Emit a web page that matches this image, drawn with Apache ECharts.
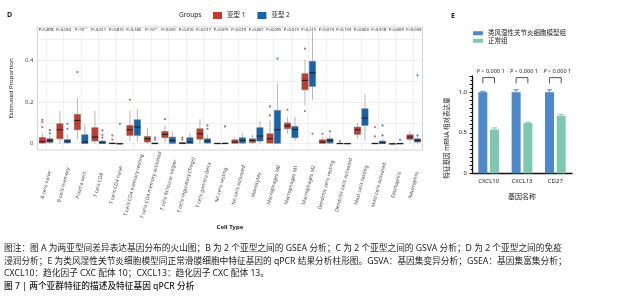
<!DOCTYPE html>
<html>
<head>
<meta charset="utf-8">
<script src="https://cdn.jsdelivr.net/npm/echarts@6/dist/echarts.min.js"></script>
<style>
html, body { margin: 0; padding: 0; background: #fff; }
#chart { width: 619px; height: 300px; }
</style>
</head>
<body>
<div id="chart"></div>
<script>
const FONT = '"Noto Sans", "Noto Sans CJK SC", sans-serif';

// Panel D: immune infiltration per cell type
const cellTypes = [
    'B cells naive', 'B cells memory', 'Plasma cells', 'T cells CD8', 'T cells CD4 naive',
    'T cells CD4 memory resting', 'T cells CD4 memory activated', 'T cells follicular helper',
    'T cells regulatory (Tregs)', 'T cells gamma delta', 'NK cells resting', 'NK cells activated',
    'Monocytes', 'Macrophages M0', 'Macrophages M1', 'Macrophages M2', 'Dendritic cells resting',
    'Dendritic cells activated', 'Mast cells resting', 'Mast cells activated', 'Eosinophils', 'Neutrophils'
];
const pLabels = [
    'P=0.878', 'P=0.053', 'P<10⁻⁷', 'P=0.011', 'P=0.810', 'P=0.180', 'P<10⁻⁵', 'P=0.031',
    'P=0.010', 'P=0.017', 'P=0.075', 'P=0.019', 'P=0.007', 'P=0.095', 'P=0.019', 'P=0.215',
    'P=0.019', 'P=0.159', 'P=0.003', 'P=0.318', 'P=0.069', 'P=0.003'
];
// [min, q1, median, q3, max]
const subtype1Box = [
    [0, 0.003, 0.01, 0.03, 0.05], [0, 0.024, 0.067, 0.096, 0.157], [0.02, 0.067, 0.112, 0.141, 0.22],
    [0, 0.013, 0.032, 0.077, 0.157], [0, 0, 0.001, 0.004, 0.008], [0.013, 0.04, 0.067, 0.088, 0.16],
    [0, 0.008, 0.024, 0.035, 0.077], [0.008, 0.029, 0.045, 0.059, 0.088], [0, 0, 0.002, 0.006, 0.012],
    [0, 0.022, 0.048, 0.072, 0.118], [0, 0, 0.001, 0.003, 0.006], [0, 0.002, 0.008, 0.019, 0.032],
    [0, 0.005, 0.016, 0.024, 0.043], [0, 0.003, 0.024, 0.048, 0.112], [0.048, 0.072, 0.086, 0.1, 0.128],
    [0.184, 0.259, 0.304, 0.336, 0.403], [0, 0.002, 0.008, 0.019, 0.032], [0, 0, 0.001, 0.003, 0.006],
    [0.024, 0.045, 0.067, 0.08, 0.1], [0, 0, 0.001, 0.003, 0.006], [0, 0, 0, 0.001, 0.002],
    [0.008, 0.021, 0.032, 0.043, 0.06]
];
const subtype2Box = [
    [0, 0.006, 0.016, 0.024, 0.04], [0, 0.004, 0.012, 0.02, 0.045], [0, 0.001, 0.008, 0.043, 0.093],
    [0, 0.001, 0.005, 0.013, 0.022], [0, 0, 0, 0.002, 0.004], [0.01, 0.04, 0.08, 0.115, 0.168],
    [0, 0, 0.001, 0.004, 0.008], [0, 0.002, 0.016, 0.032, 0.06], [0, 0.001, 0.008, 0.029, 0.053],
    [0, 0.003, 0.013, 0.024, 0.045], [0, 0, 0.001, 0.004, 0.008], [0, 0.003, 0.016, 0.029, 0.051],
    [0, 0.013, 0.037, 0.077, 0.109], [0, 0.002, 0.067, 0.16, 0.29], [0.013, 0.029, 0.069, 0.083, 0.13],
    [0.208, 0.275, 0.34, 0.395, 0.54], [0, 0.003, 0.016, 0.024, 0.04], [0, 0, 0.001, 0.002, 0.004],
    [0.016, 0.088, 0.123, 0.168, 0.237], [0, 0.001, 0.004, 0.013, 0.022], [0, 0, 0.001, 0.002, 0.004],
    [0, 0.008, 0.016, 0.024, 0.035]
];
// [cell type index, value]
const subtype1Outliers = [
    [0, 0.08], [0, 0.105], [0, 0.115], [2, 0.344], [4, 0.02], [4, 0.04], [5, 0.211], [7, 0.118],
    [8, 0.02], [8, 0.03], [13, 0.136], [13, 0.179], [14, 0.163], [15, 0.157], [15, 0.456],
    [16, 0.048], [17, 0.012], [19, 0.035], [19, 0.08]
];
const subtype2Outliers = [
    [0, 0.05], [0, 0.065], [1, 0.072], [1, 0.096], [3, 0.03], [3, 0.043], [3, 0.064], [4, 0.096],
    [6, 0.02], [6, 0.03], [9, 0.072], [9, 0.088], [10, 0.083], [13, 0.408], [15, 0.048],
    [16, 0.06], [19, 0.04], [19, 0.088], [20, 0.019], [21, 0.04], [21, 0.328]
];

// Panel E: qPCR
const genes = ['CXCL10', 'CXCL13', 'CD27'];
const raModel = [1.0, 1.0, 1.0];
const raModelErr = [0.01, 0.03, 0.03];
const normalGroup = [0.54, 0.62, 0.71];
const normalErr = [0.02, 0.01, 0.015];
const geneP = ['P < 0.000 1', 'P < 0.000 1', 'P < 0.000 1'];

const captionLines = [
    '图注：图 A 为两亚型间差异表达基因分布的火山图；B 为 2 个亚型之间的 GSEA 分析；C 为 2 个亚型之间的 GSVA 分析；D 为 2 个亚型之间的免疫',
    '浸润分析；E 为类风湿性关节炎细胞模型同正常滑膜细胞中特征基因的 qPCR 结果分析柱形图。GSVA：基因集变异分析；GSEA：基因集富集分析；',
    'CXCL10：趋化因子 CXC 配体 10；CXCL13：趋化因子 CXC 配体 13。',
    '图 7 | 两个亚群特征的描述及特征基因 qPCR 分析'
];

const RED = '#c23b2b';
const BLUE = '#1464ad';
const E_BLUE = '#4d88c9';
const E_GREEN = '#7ec8b2';

function renderBox(offset) {
    return function (params, api) {
        const i = api.value(0);
        const band = api.size([1, 0])[0];
        const half = band * 0.18;
        const cx = api.coord([i, 0])[0] + offset * band;
        const y = k => api.coord([i, api.value(k)])[1];
        const yMin = y(1), yQ1 = y(2), yMed = y(3), yQ3 = y(4), yMax = y(5);
        const whisker = { stroke: '#a5a5a5', lineWidth: 0.8 };
        return {
            type: 'group',
            children: [
                { type: 'line', shape: { x1: cx, y1: yMax, x2: cx, y2: yQ3 }, style: whisker },
                { type: 'line', shape: { x1: cx, y1: yQ1, x2: cx, y2: yMin }, style: whisker },
                {
                    type: 'rect',
                    shape: { x: cx - half, y: yQ3, width: half * 2, height: Math.max(yQ1 - yQ3, 0.8) },
                    style: { fill: api.visual('color'), stroke: '#6d6d6d', lineWidth: 0.5 }
                },
                { type: 'line', shape: { x1: cx - half, y1: yMed, x2: cx + half, y2: yMed }, style: { stroke: '#1a1a1a', lineWidth: 1 } }
            ]
        };
    };
}

// error bars drawn on top of the bars, px offset matches barWidth/barGap
function renderErr(offsetPx) {
    return function (params, api) {
        const i = api.value(0);
        const top = api.coord([i, api.value(1) + api.value(2)]);
        const base = api.coord([i, api.value(1)]);
        const x = top[0] + offsetPx;
        const style = { stroke: api.visual('color'), lineWidth: 1 };
        return {
            type: 'group',
            children: [
                { type: 'line', shape: { x1: x, y1: base[1], x2: x, y2: top[1] }, style },
                { type: 'line', shape: { x1: x - 2.5, y1: top[1], x2: x + 2.5, y2: top[1] }, style }
            ]
        };
    };
}

function renderBracket(params, api) {
    const i = api.value(0);
    const low = api.coord([i, api.value(1)]);
    const high = api.coord([i, api.value(2)]);
    const x1 = low[0] - 5.85, x2 = low[0] + 5.85;
    return {
        type: 'group',
        children: [
            {
                type: 'polyline',
                shape: { points: [[x1, low[1]], [x1, high[1]], [x2, high[1]], [x2, low[1]]] },
                style: { stroke: '#555', lineWidth: 1, fill: null }
            },
            {
                type: 'text',
                x: low[0] + 2, y: high[1] - 6,
                style: {
                    text: '{i|P}' + geneP[i].slice(1),
                    align: 'center', verticalAlign: 'middle',
                    fontSize: 5.5, fontFamily: FONT, fill: '#222',
                    rich: { i: { fontStyle: 'italic', fontSize: 5.5, fontFamily: FONT } }
                }
            }
        ]
    };
}

const chart = echarts.init(document.getElementById('chart'));

const option = {
    animation: false,
    backgroundColor: '#fff',
    textStyle: { fontFamily: FONT },
    title: [
        { text: 'D', left: 7, top: 12, padding: 0, textStyle: { fontSize: 7, fontWeight: 'bold', color: '#222' } },
        { text: 'Groups', left: 179, top: 12, padding: 0, textStyle: { fontSize: 6.5, fontWeight: 'normal', color: '#222' } },
        { text: 'E', left: 451, top: 13, padding: 0, textStyle: { fontSize: 7, fontWeight: 'bold', color: '#222' } }
    ],
    legend: [
        {
            data: ['亚型 1', '亚型 2'],
            left: 213, top: 12, padding: 0,
            icon: 'rect', itemWidth: 9, itemHeight: 7, itemGap: 12,
            textStyle: { fontSize: 6.5, color: '#222' }
        },
        {
            data: ['类风湿性关节炎细胞模型组', '正常组'],
            orient: 'vertical', left: 473, top: 30, padding: 0,
            icon: 'rect', itemWidth: 10, itemHeight: 4, itemGap: 1,
            textStyle: { fontSize: 6.5, color: '#222', lineHeight: 6.5 }
        }
    ],
    grid: [
        { left: 29.5, top: 27, width: 393, height: 123, show: true, borderColor: '#c8c8c8', borderWidth: 0.8 },
        { left: 472, top: 76, width: 100, height: 97.3 }
    ],
    xAxis: [
        {
            type: 'category', gridIndex: 0, data: cellTypes,
            name: 'Cell Type', nameLocation: 'middle', nameGap: 74,
            nameTextStyle: { fontSize: 6, fontWeight: 'bold', color: '#222' },
            axisLine: { show: false },
            axisTick: { alignWithLabel: true, length: 2, lineStyle: { color: '#999' } },
            axisLabel: {
                interval: 0, rotate: 75, align: 'center', verticalAlign: 'middle',
                margin: 35, fontSize: 5, color: '#444'
            },
            splitLine: { show: true, alignWithLabel: true, lineStyle: { color: '#ececec', width: 0.8 } }
        },
        {
            type: 'category', gridIndex: 0, data: pLabels, position: 'top',
            axisLine: { show: false }, axisTick: { show: false },
            axisLabel: { interval: 0, inside: true, margin: 1, fontSize: 4, color: '#222' },
            splitLine: { show: false }
        },
        {
            type: 'category', gridIndex: 1, data: genes,
            name: '基因名称', nameLocation: 'middle', nameGap: 20,
            nameTextStyle: { fontSize: 7, color: '#222' },
            axisLine: { lineStyle: { color: '#111', width: 1.3 } },
            axisTick: { alignWithLabel: true, length: 3, lineStyle: { color: '#111' } },
            axisLabel: { fontSize: 6, color: '#222', margin: 5 }
        }
    ],
    yAxis: [
        {
            type: 'value', gridIndex: 0, min: -0.03, max: 0.56,
            name: 'Estimated Proportion', nameLocation: 'middle', nameGap: 17,
            nameTextStyle: { fontSize: 6, color: '#222' },
            axisLine: { show: false },
            axisTick: { show: false, customValues: [0, 0.1, 0.2, 0.3, 0.4, 0.5] },
            axisLabel: {
                customValues: [0, 0.2, 0.4], fontSize: 6, color: '#4d4d4d', margin: 4,
                formatter: v => (v === 0 ? '0' : v.toFixed(1))
            },
            splitLine: { lineStyle: { color: '#ececec', width: 0.8 } }
        },
        {
            type: 'value', gridIndex: 1, min: 0, max: 1.2, interval: 0.1,
            axisLine: { show: true, lineStyle: { color: '#111', width: 1.3 } },
            axisTick: { show: true, length: 2.5, lineStyle: { color: '#111' } },
            minorTick: { show: true, splitNumber: 2, length: 1.5, lineStyle: { color: '#111' } },
            axisLabel: {
                fontSize: 6, color: '#222', margin: 5,
                formatter: v => {
                    if (Math.abs(v) < 1e-9) return '0';
                    if (Math.abs(v - 0.5) < 1e-9) return '0.5';
                    if (Math.abs(v - 1) < 1e-9) return '1.0';
                    return '';
                }
            },
            splitLine: { show: false }
        }
    ],
    series: [
        {
            name: '亚型 1', type: 'custom', xAxisIndex: 0, yAxisIndex: 0,
            itemStyle: { color: RED },
            renderItem: renderBox(-0.213),
            encode: { x: 0, y: [1, 2, 3, 4, 5] },
            data: subtype1Box.map((b, i) => [i].concat(b))
        },
        {
            name: '亚型 2', type: 'custom', xAxisIndex: 0, yAxisIndex: 0,
            itemStyle: { color: BLUE },
            renderItem: renderBox(0.213),
            encode: { x: 0, y: [1, 2, 3, 4, 5] },
            data: subtype2Box.map((b, i) => [i].concat(b))
        },
        {
            name: 'out1', type: 'scatter', xAxisIndex: 0, yAxisIndex: 0,
            symbolSize: 2.2, symbolOffset: [-3.8, 0],
            itemStyle: { color: '#b4463a' },
            data: subtype1Outliers
        },
        {
            name: 'out2', type: 'scatter', xAxisIndex: 0, yAxisIndex: 0,
            symbolSize: 2.2, symbolOffset: [3.8, 0],
            itemStyle: { color: '#2a67ad' },
            data: subtype2Outliers
        },
        {
            name: '类风湿性关节炎细胞模型组', type: 'bar', xAxisIndex: 2, yAxisIndex: 1,
            barWidth: 9, barGap: '30%',
            itemStyle: { color: E_BLUE },
            data: raModel
        },
        {
            name: '正常组', type: 'bar', xAxisIndex: 2, yAxisIndex: 1,
            barWidth: 9, barGap: '30%',
            itemStyle: { color: E_GREEN },
            data: normalGroup
        },
        {
            name: 'errRA', type: 'custom', xAxisIndex: 2, yAxisIndex: 1,
            itemStyle: { color: E_BLUE },
            renderItem: renderErr(-5.85),
            data: raModel.map((v, i) => [i, v, raModelErr[i]])
        },
        {
            name: 'errNormal', type: 'custom', xAxisIndex: 2, yAxisIndex: 1,
            itemStyle: { color: E_GREEN },
            renderItem: renderErr(5.85),
            data: normalGroup.map((v, i) => [i, v, normalErr[i]])
        },
        {
            name: 'brackets', type: 'custom', xAxisIndex: 2, yAxisIndex: 1,
            clip: false,
            renderItem: renderBracket,
            data: genes.map((g, i) => [i, 1.11, 1.18])
        }
    ],
    graphic: [
        {
            type: 'text', x: 447, y: 138, rotation: Math.PI / 2,
            style: { text: '特征基因 mRNA 相对表达量', fontSize: 6.5, fontFamily: FONT, fill: '#222', align: 'center', verticalAlign: 'middle' }
        }
    ].concat(captionLines.map((line, k) => ({
        type: 'text', x: 4, y: [249, 262, 274, 286.5][k],
        style: {
            text: line, fontSize: 8.7, fontFamily: FONT, fill: '#222',
            verticalAlign: 'middle', fontWeight: k === 3 ? 500 : 'normal'
        }
    })))
};

chart.setOption(option);
</script>
</body>
</html>
